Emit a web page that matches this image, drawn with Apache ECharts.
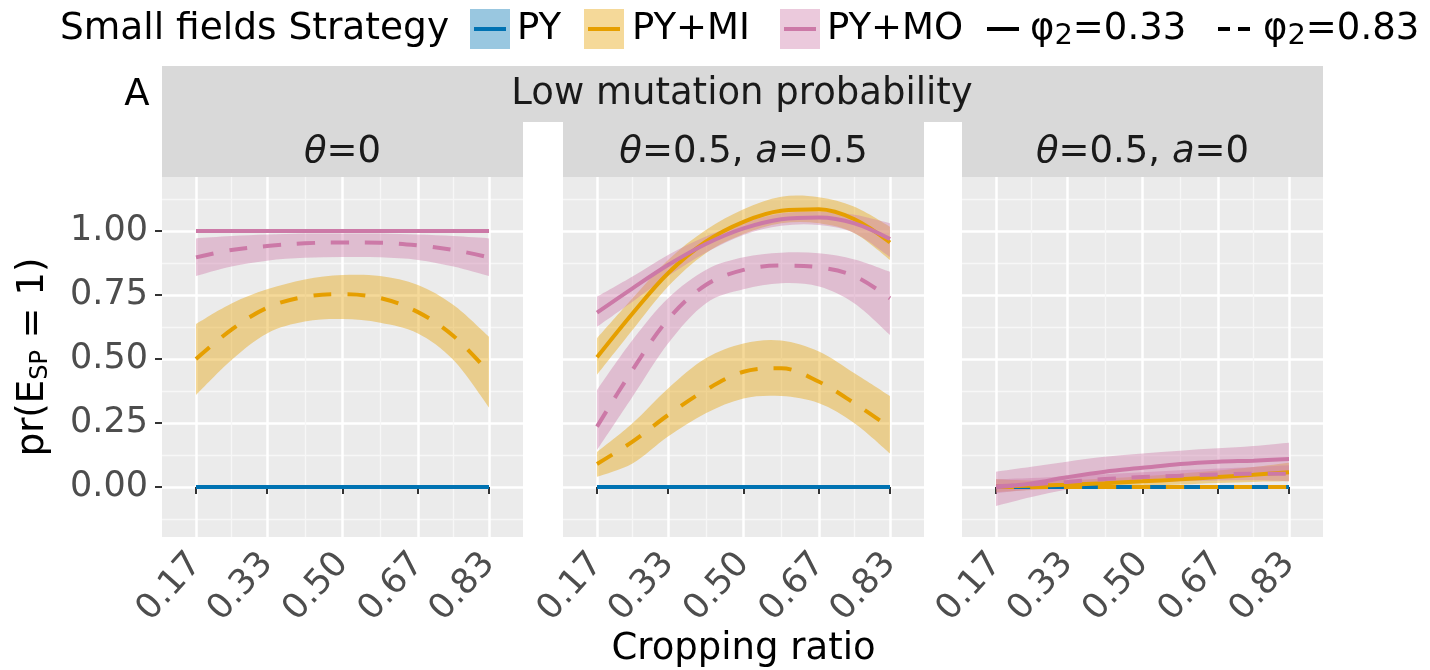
<!DOCTYPE html>
<html>
<head>
<meta charset="utf-8">
<script src="https://cdn.jsdelivr.net/npm/echarts@6/dist/echarts.min.js"></script>
<style>
html, body { margin: 0; padding: 0; background: #fff; }
#chart { width: 1430px; height: 670px; }
</style>
</head>
<body>
<div id="chart"></div>
<script>
var xs = [0.17, 0.25, 0.33, 0.415, 0.5, 0.585, 0.67, 0.75, 0.83];
var xTicks = [0.17, 0.33, 0.5, 0.67, 0.83];
var xMinor = [0.25, 0.415, 0.585, 0.75];
var yTicks = [0, 0.25, 0.5, 0.75, 1];
var yMinor = [-0.125, 0.125, 0.375, 0.625, 0.875, 1.125];
var stripTitles = ['{i|θ}=0', '{i|θ}=0.5, {i|a}=0.5', '{i|θ}=0.5, {i|a}=0'];

var zeros = [0, 0, 0, 0, 0, 0, 0, 0, 0];
var ones = [1, 1, 1, 1, 1, 1, 1, 1, 1];

// panel 1: theta = 0
var p1MI83 = [0.50, 0.615, 0.70, 0.743, 0.753, 0.738, 0.683, 0.59, 0.447];
var p1MI83lo = [0.359, 0.496, 0.600, 0.646, 0.656, 0.642, 0.600, 0.496, 0.311];
var p1MI83hi = [0.637, 0.717, 0.772, 0.811, 0.828, 0.824, 0.789, 0.711, 0.587];
var p1MO83 = [0.897, 0.926, 0.941, 0.952, 0.955, 0.954, 0.944, 0.926, 0.897];
var p1MO83lo = [0.824, 0.861, 0.884, 0.895, 0.898, 0.897, 0.887, 0.861, 0.824];
var p1MO83hi = [0.971, 0.98, 0.986, 0.99, 0.99, 0.99, 0.986, 0.98, 0.971];

// panel 2: theta = 0.5, a = 0.5
var p2MI33 = [0.507, 0.678, 0.835, 0.958, 1.036, 1.079, 1.085, 1.046, 0.955];
var p2MI33lo = [0.438, 0.613, 0.783, 0.913, 0.988, 1.03, 1.03, 0.991, 0.887];
var p2MI33hi = [0.581, 0.737, 0.887, 1.004, 1.085, 1.134, 1.132, 1.095, 1.017];
var p2MI83 = [0.090, 0.177, 0.281, 0.379, 0.450, 0.464, 0.411, 0.327, 0.233];
var p2MI83lo = [0.040, 0.092, 0.197, 0.288, 0.346, 0.355, 0.327, 0.249, 0.131];
var p2MI83hi = [0.137, 0.249, 0.385, 0.503, 0.561, 0.572, 0.529, 0.444, 0.355];
var p2MO33 = [0.681, 0.776, 0.867, 0.949, 1.010, 1.046, 1.053, 1.030, 0.969];
var p2MO33lo = [0.626, 0.724, 0.824, 0.915, 0.984, 1.02, 1.023, 0.991, 0.898];
var p2MO33hi = [0.743, 0.822, 0.906, 0.978, 1.032, 1.069, 1.076, 1.063, 1.030];
var p2MO83 = [0.236, 0.457, 0.655, 0.789, 0.848, 0.865, 0.858, 0.824, 0.737];
var p2MO83lo = [0.145, 0.353, 0.561, 0.717, 0.772, 0.796, 0.783, 0.717, 0.594];
var p2MO83hi = [0.379, 0.574, 0.737, 0.848, 0.897, 0.915, 0.913, 0.889, 0.841];

// panel 3: theta = 0.5, a = 0
var p3MI33 = [0.003, 0.005, 0.009, 0.015, 0.022, 0.03, 0.039, 0.048, 0.058];
var p3MI33lo = [-0.02, -0.012, -0.005, 0.0, 0.004, 0.01, 0.016, 0.02, 0.022];
var p3MI33hi = [0.03, 0.025, 0.027, 0.033, 0.042, 0.052, 0.064, 0.078, 0.095];
var p3MO33 = [-0.001, 0.014, 0.038, 0.060, 0.075, 0.090, 0.099, 0.103, 0.109];
var p3MO33lo = [-0.074, -0.039, -0.010, 0.012, 0.027, 0.038, 0.042, 0.046, 0.049];
var p3MO33hi = [0.06, 0.079, 0.099, 0.118, 0.131, 0.142, 0.151, 0.160, 0.173];
var p3MO83 = [0.003, 0.010, 0.020, 0.031, 0.039, 0.044, 0.049, 0.052, 0.052];
var p3MO83lo = [-0.025, -0.01, 0.0, 0.01, 0.018, 0.022, 0.025, 0.026, 0.022];
var p3MO83hi = [0.03, 0.035, 0.042, 0.05, 0.058, 0.065, 0.072, 0.078, 0.085];

var FONT = 'DejaVu Sans';
var colors = { PY: '#0072B2', MI: '#E69F00', MO: '#CC79A7' };
var gridLeft = [162, 563, 962];
var gridTop = 177, gridW = 361, gridH = 360;
var xMin = 0.0934, xMax = 0.9066;
var yMin = -0.1953, yMax = 1.2109;

// drawing order as in the original: PY, PY+MI, PY+MO; solid then dashed
var panels = [
  [
    { c: 'PY', dash: false, fit: zeros }, { c: 'PY', dash: true, fit: zeros },
    { c: 'MI', dash: false, fit: ones }, { c: 'MI', dash: true, fit: p1MI83, lo: p1MI83lo, hi: p1MI83hi },
    { c: 'MO', dash: false, fit: ones }, { c: 'MO', dash: true, fit: p1MO83, lo: p1MO83lo, hi: p1MO83hi }
  ],
  [
    { c: 'PY', dash: false, fit: zeros }, { c: 'PY', dash: true, fit: zeros },
    { c: 'MI', dash: false, fit: p2MI33, lo: p2MI33lo, hi: p2MI33hi }, { c: 'MI', dash: true, fit: p2MI83, lo: p2MI83lo, hi: p2MI83hi },
    { c: 'MO', dash: false, fit: p2MO33, lo: p2MO33lo, hi: p2MO33hi }, { c: 'MO', dash: true, fit: p2MO83, lo: p2MO83lo, hi: p2MO83hi }
  ],
  [
    { c: 'PY', dash: false, fit: zeros }, { c: 'PY', dash: true, fit: zeros },
    { c: 'MI', dash: false, fit: p3MI33, lo: p3MI33lo, hi: p3MI33hi }, { c: 'MI', dash: true, fit: zeros },
    { c: 'MO', dash: false, fit: p3MO33, lo: p3MO33lo, hi: p3MO33hi }, { c: 'MO', dash: true, fit: p3MO83, lo: p3MO83lo, hi: p3MO83hi }
  ]
];

function pts(vals) {
  return xs.map(function (x, i) { return [x, vals[i]]; });
}

// smooth open curve through pixel points (Catmull-Rom as cubic beziers)
function curvePath(p, cmd) {
  var d = cmd + p[0][0] + ' ' + p[0][1];
  for (var i = 0; i < p.length - 1; i++) {
    var p0 = p[i - 1] || p[i], p1 = p[i], p2 = p[i + 1], p3 = p[i + 2] || p2;
    d += ' C' + (p1[0] + (p2[0] - p0[0]) / 6) + ' ' + (p1[1] + (p2[1] - p0[1]) / 6) +
         ' ' + (p2[0] - (p3[0] - p1[0]) / 6) + ' ' + (p2[1] - (p3[1] - p1[1]) / 6) +
         ' ' + p2[0] + ' ' + p2[1];
  }
  return d;
}

function bandSeries(g, lo, hi, col) {
  return {
    type: 'custom', xAxisIndex: 2 * g, yAxisIndex: 2 * g, silent: true, clip: true,
    data: xs.map(function (x, i) { return [x, lo[i], hi[i]]; }),
    encode: { x: 0, y: [1, 2] },
    renderItem: function (params, api) {
      if (params.dataIndexInside !== 0) return null;
      var up = [], dn = [];
      for (var i = 0; i < xs.length; i++) {
        up.push(api.coord([api.value(0, i), api.value(2, i)]));
        dn.unshift(api.coord([api.value(0, i), api.value(1, i)]));
      }
      return {
        type: 'path',
        shape: { pathData: curvePath(up, 'M') + ' ' + curvePath(dn, 'L') + ' Z' },
        style: { fill: echarts.color.modifyAlpha(col, 0.4), stroke: null }
      };
    }
  };
}

var grids = [], xAxes = [], yAxes = [], series = [];

for (var g = 0; g < 3; g++) {
  grids.push({
    left: gridLeft[g], top: gridTop, width: gridW, height: gridH,
    show: true, backgroundColor: '#EBEBEB', borderWidth: 0,
    outerBoundsMode: 'none'
  });
  xAxes.push({
    type: 'value', gridIndex: g, min: xMin, max: xMax,
    axisLine: { show: false },
    axisTick: { show: true, customValues: xTicks, length: 7, lineStyle: { color: '#333333', width: 2 } },
    axisLabel: {
      customValues: xTicks, rotate: 48, margin: 21, padding: [44, 0, 0, 0],
      fontSize: 35, color: '#4D4D4D', fontFamily: FONT,
      formatter: function (v) { return v.toFixed(2); }
    },
    splitLine: { show: true, lineStyle: { color: '#FFFFFF', width: 2.5 } },
    name: g === 1 ? 'Cropping ratio' : '',
    nameLocation: 'middle', nameGap: 94, nameMoveOverlap: false,
    nameTextStyle: { fontSize: 37, color: '#000', fontFamily: FONT }
  });
  xAxes.push({
    type: 'value', gridIndex: g, min: xMin, max: xMax,
    axisLine: { show: false },
    axisTick: { show: false, customValues: xMinor },
    axisLabel: { show: false, customValues: xMinor },
    splitLine: { show: true, lineStyle: { color: '#F7F7F7', width: 1.3 } }
  });
  yAxes.push({
    type: 'value', gridIndex: g, min: yMin, max: yMax,
    axisLine: { show: false },
    axisTick: { show: g === 0, customValues: yTicks, length: 7, lineStyle: { color: '#333333', width: 2 } },
    axisLabel: {
      show: g === 0, customValues: yTicks, margin: 14,
      fontSize: 35, color: '#4D4D4D', fontFamily: FONT,
      formatter: function (v) { return v.toFixed(2); }
    },
    splitLine: { show: true, lineStyle: { color: '#FFFFFF', width: 2.5 } },
    name: g === 0 ? '{a|pr(E}{s|SP}{a| = 1)}' : '',
    nameLocation: 'middle', nameRotate: 90, nameGap: 109, nameMoveOverlap: false,
    nameTextStyle: {
      fontSize: 37, color: '#000', fontFamily: FONT,
      rich: {
        a: { fontSize: 37, color: '#000', fontFamily: FONT },
        s: { fontSize: 24, color: '#000', fontFamily: FONT, padding: [16, 0, 0, 0] }
      }
    }
  });
  yAxes.push({
    type: 'value', gridIndex: g, min: yMin, max: yMax,
    axisLine: { show: false },
    axisTick: { show: false, customValues: yMinor },
    axisLabel: { show: false, customValues: yMinor },
    splitLine: { show: true, lineStyle: { color: '#F7F7F7', width: 1.3 } }
  });

  panels[g].forEach(function (cv) {
    var col = colors[cv.c];
    if (cv.lo) series.push(bandSeries(g, cv.lo, cv.hi, col));
    series.push({
      type: 'line', xAxisIndex: 2 * g, yAxisIndex: 2 * g,
      data: pts(cv.fit), smooth: 0.35, symbol: 'none', silent: true,
      lineStyle: { color: col, width: 4, type: cv.dash ? [18, 16] : 'solid', cap: 'butt' }
    });
  });
}

function txt(x, y, text, size, color, align, rich) {
  return {
    type: 'text', x: x, y: y, silent: true,
    style: {
      text: text, fontSize: size, fontFamily: FONT, fill: color,
      align: align || 'left', verticalAlign: 'middle',
      textAlign: align || 'left', textVerticalAlign: 'middle',
      rich: rich
    }
  };
}

var graphics = [];
// facet strips
graphics.push({ type: 'rect', shape: { x: 162, y: 66, width: 1161, height: 56 }, style: { fill: '#D9D9D9' }, silent: true });
graphics.push(txt(742, 94.5, 'Low mutation probability', 37, '#1A1A1A', 'center'));
graphics.push(txt(137, 95, 'A', 37, '#000', 'center'));
for (var s = 0; s < 3; s++) {
  graphics.push({ type: 'rect', shape: { x: gridLeft[s], y: 122, width: gridW, height: 55 }, style: { fill: '#D9D9D9' }, silent: true });
  graphics.push(txt(gridLeft[s] + gridW / 2, 152, stripTitles[s], 37, '#1A1A1A', 'center', {
    i: { fontStyle: 'italic', fontSize: 37, fontFamily: FONT, fill: '#1A1A1A' }
  }));
}

// legend
graphics.push(txt(60, 29, 'Small fields Strategy', 37.5, '#000'));
[['PY', 470, 517, 'PY'], ['MI', 584, 632, 'PY+MI'], ['MO', 780, 827, 'PY+MO']].forEach(function (l) {
  graphics.push({ type: 'rect', shape: { x: l[1], y: 9, width: 40, height: 40 }, style: { fill: colors[l[0]], opacity: 0.4 }, silent: true });
  graphics.push({ type: 'line', shape: { x1: l[1] + 4, y1: 29, x2: l[1] + 36, y2: 29 }, style: { stroke: colors[l[0]], lineWidth: 4 }, silent: true });
  graphics.push(txt(l[2], 29, l[3], 37, '#000'));
});
var phiRich = {
  t: { fontSize: 37, fontFamily: FONT, fill: '#000' },
  s: { fontSize: 29, fontFamily: FONT, fill: '#000', padding: [14, 0, 0, 0] }
};
graphics.push({ type: 'line', shape: { x1: 987, y1: 29, x2: 1019, y2: 29 }, style: { stroke: '#000', lineWidth: 4 }, silent: true });
graphics.push(txt(1030, 29, '{t|φ}{s|2}{t|=0.33}', 37, '#000', 'left', phiRich));
graphics.push({ type: 'line', shape: { x1: 1218, y1: 29, x2: 1250, y2: 29 }, style: { stroke: '#000', lineWidth: 4, lineDash: [12, 8] }, silent: true });
graphics.push(txt(1263, 29, '{t|φ}{s|2}{t|=0.83}', 37, '#000', 'left', phiRich));

var chart = echarts.init(document.getElementById('chart'));
chart.setOption({
  animation: false,
  backgroundColor: '#FFFFFF',
  textStyle: { fontFamily: FONT },
  grid: grids,
  xAxis: xAxes,
  yAxis: yAxes,
  series: series,
  graphic: graphics
});
</script>
</body>
</html>
